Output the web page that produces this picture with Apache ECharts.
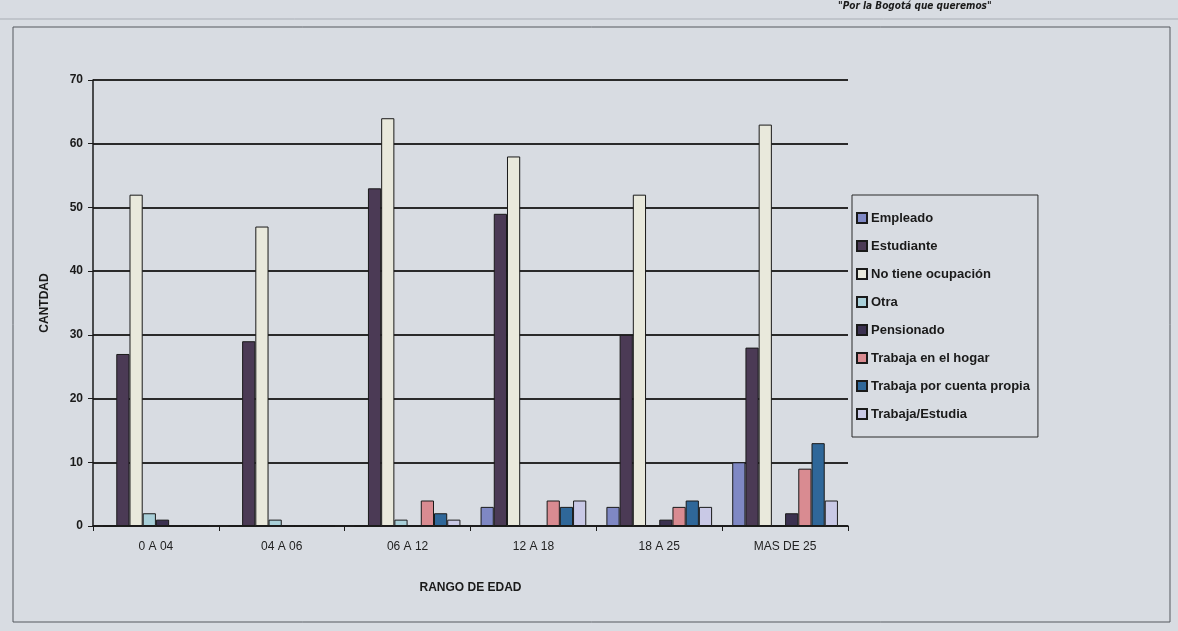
<!DOCTYPE html>
<html>
<head>
<meta charset="utf-8">
<script src="https://cdn.jsdelivr.net/npm/echarts@6/dist/echarts.min.js"></script>
<style>
	html, body { margin: 0; padding: 0; background: #d8dce2; }
	#chart { width: 1178px; height: 631px; }
</style>
</head>
<body>
<div id="chart"></div>
<script>
var categories = ["0 A 04", "04 A 06", "06 A 12", "12 A 18", "18 A 25", "MAS DE 25"];
var seriesNames = ["Empleado", "Estudiante", "No tiene ocupación", "Otra", "Pensionado",
	"Trabaja en el hogar", "Trabaja por cuenta propia", "Trabaja/Estudia"];
var seriesColors = ["#7f88c4", "#4b3a55", "#e9e9dc", "#a9d0d9", "#3b3150",
	"#d98b91", "#2f6799", "#c9c9e6"];

var empleado = [0, 0, 0, 3, 3, 10];
var estudiante = [27, 29, 53, 49, 30, 28];
var noTiene = [52, 47, 64, 58, 52, 63];
var otra = [2, 1, 1, 0, 0, 0];
var pensionado = [1, 0, 0, 0, 1, 2];
var hogar = [0, 0, 4, 4, 3, 9];
var cuentaPropia = [0, 0, 2, 3, 4, 13];
var trabajaEstudia = [0, 0, 1, 4, 3, 4];

var yTicks = [0, 10, 20, 30, 40, 50, 60, 70];

var allData = [empleado, estudiante, noTiene, otra, pensionado, hogar, cuentaPropia, trabajaEstudia];

function initChart() {
	var chart = echarts.init(document.getElementById("chart"));
	var series = [];
	jQueryLikeEach(seriesNames, function(i, name) {
		series.push({
			name: name,
			type: 'bar',
			data: allData[i],
			barGap: '0%',
			barCategoryGap: '16%',
			itemStyle: {
				color: seriesColors[i],
				borderColor: '#1a1a1a',
				borderWidth: 1
			}
		});
	});

	chart.setOption({
		backgroundColor: '#d8dce2',
		animation: false,
		textStyle: {
			fontFamily: 'Liberation Sans, Arial, sans-serif'
		},
		grid: {
			left: 93,
			right: 330,
			top: 80,
			bottom: 105
		},
		legend: {
			orient: 'vertical',
			left: 852,
			top: 195,
			padding: [15, 8, 15, 4],
			itemGap: 12,
			itemWidth: 10,
			itemHeight: 10,
			icon: 'rect',
			borderColor: '#2a2a2a',
			borderWidth: 1,
			textStyle: {
				fontSize: 13,
				fontWeight: 'bold',
				color: '#1a1a1a',
				lineHeight: 16,
				padding: [0, 0, 0, -1]
			},
			data: seriesNames
		},
		xAxis: {
			type: 'category',
			data: categories,
			name: 'RANGO DE EDAD',
			nameLocation: 'middle',
			nameGap: 56,
			nameTextStyle: {
				fontSize: 12,
				fontWeight: 'bold',
				color: '#1a1a1a'
			},
			axisLine: { lineStyle: { color: '#1a1a1a', width: 1.5 } },
			axisTick: { show: true, alignWithLabel: false, length: 5, lineStyle: { color: '#1a1a1a' } },
			axisLabel: { fontSize: 12, color: '#222', margin: 15 }
		},
		yAxis: {
			type: 'value',
			min: yTicks[0],
			max: yTicks[yTicks.length - 1],
			interval: 10,
			name: 'CANTDAD',
			nameLocation: 'middle',
			nameGap: 42,
			nameRotate: 90,
			nameTextStyle: {
				fontSize: 12,
				fontWeight: 'bold',
				color: '#1a1a1a'
			},
			axisLine: { show: true, lineStyle: { color: '#1a1a1a', width: 1.5 } },
			axisTick: { show: true, length: 5, lineStyle: { color: '#1a1a1a' } },
			axisLabel: { fontSize: 12, fontWeight: 'bold', color: '#1a1a1a', margin: 10 },
			splitLine: { lineStyle: { color: '#2a2a2a', width: 2 } }
		},
		graphic: [
			{
				type: 'rect',
				shape: { x: 13, y: 27, width: 1157, height: 595 },
				style: { fill: 'none', stroke: '#55595f', lineWidth: 1 },
				silent: true
			},
			{
				type: 'line',
				shape: { x1: 0, y1: 19, x2: 1178, y2: 19 },
				style: { stroke: '#a8adb4', lineWidth: 1 },
				silent: true
			},
			{
				type: 'text',
				left: 838,
				top: 1,
				style: {
					text: '"Por la Bogotá que queremos"',
					font: 'italic bold 10px "Liberation Sans Narrow", "DejaVu Sans Condensed", sans-serif',
					fill: '#1a1a1a'
				},
				silent: true
			}
		],
		series: series
	});
}

function jQueryLikeEach(arr, fn) {
	for (var i = 0; i < arr.length; i++) {
		fn(i, arr[i]);
	}
}

initChart();
</script>
</body>
</html>
